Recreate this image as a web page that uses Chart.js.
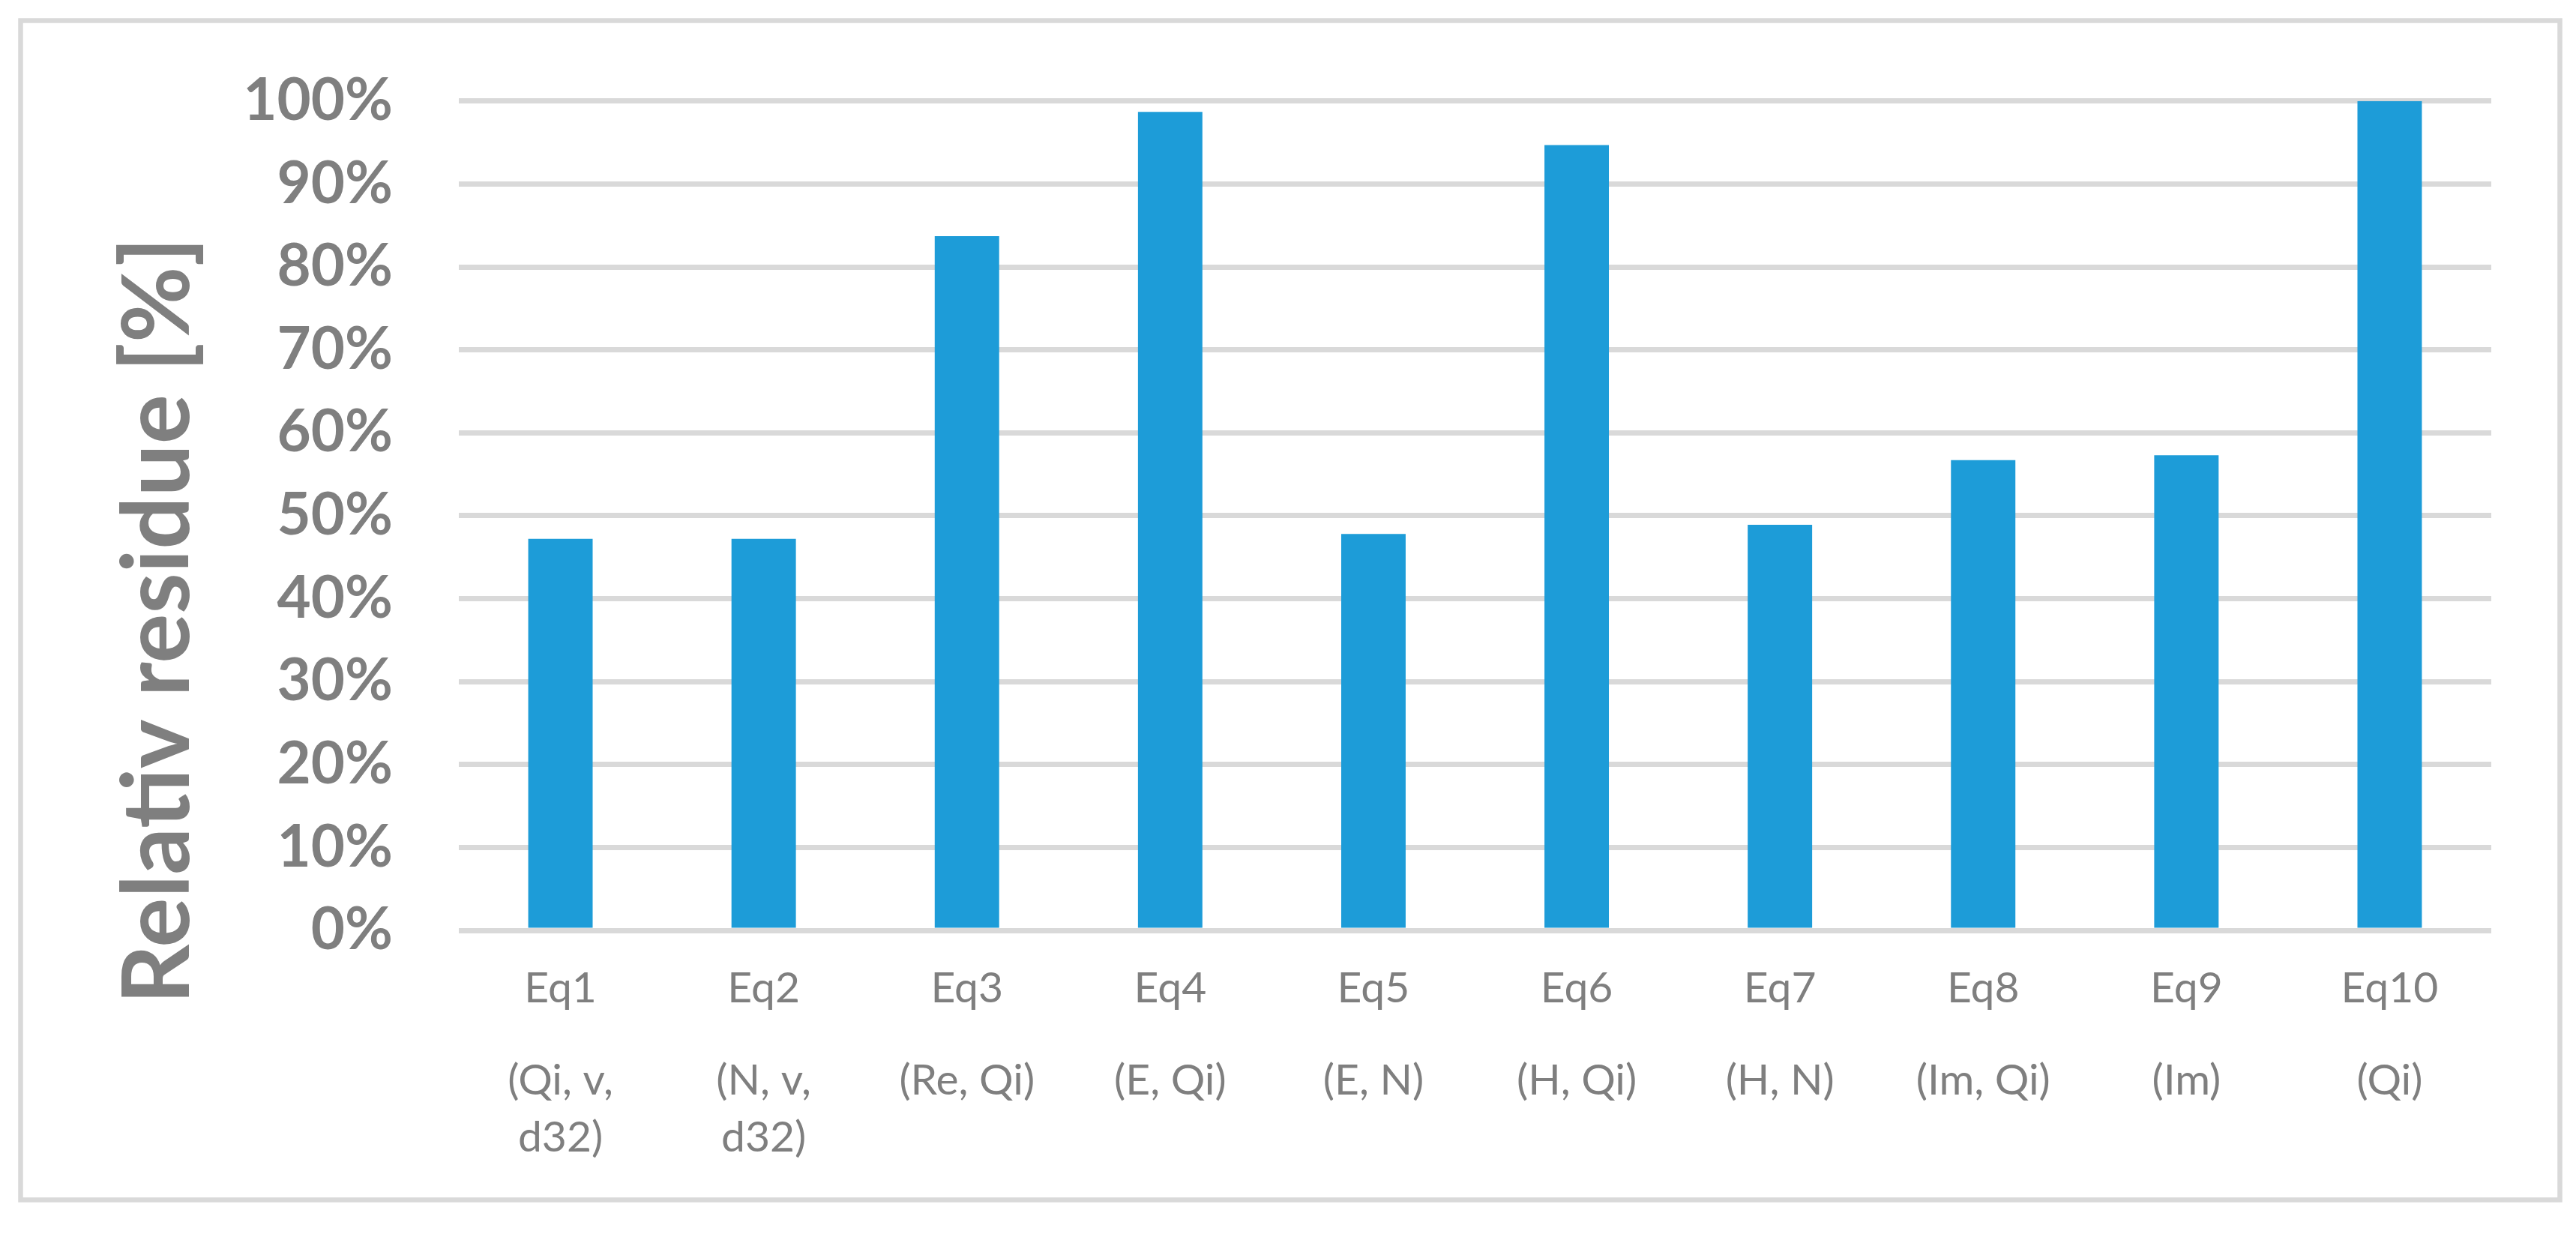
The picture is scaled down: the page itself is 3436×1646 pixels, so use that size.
<!DOCTYPE html>
<html>
<head>
<meta charset="utf-8">
<script src="https://cdn.jsdelivr.net/npm/chart.js@4.4.1/dist/chart.umd.min.js"></script>
<style>
  body { margin: 0; background: #ffffff; }
  #wrap { width: 3436px; height: 1646px; position: relative; }
</style>
</head>
<body>
<div id="wrap"><canvas id="myChart"></canvas></div>
<script>
// equation names and the variables each one uses
var eqLabels = ['Eq1', 'Eq2', 'Eq3', 'Eq4', 'Eq5', 'Eq6', 'Eq7', 'Eq8', 'Eq9', 'Eq10'];
var varLabels = [
    ['(Qi, v,', 'd32)'],
    ['(N, v,', 'd32)'],
    ['(Re, Qi)'],
    ['(E, Qi)'],
    ['(E, N)'],
    ['(H, Qi)'],
    ['(H, N)'],
    ['(Im, Qi)'],
    ['(Im)'],
    ['(Qi)']
];

// relative residue (fraction of 1)
var residues = [0.472, 0.472, 0.837, 0.987, 0.478, 0.947, 0.489, 0.567, 0.573, 1.0];

var yTickLabels = ['0%', '10%', '20%', '30%', '40%', '50%', '60%', '70%', '80%', '90%', '100%'];
var yTitle = 'Relativ residue [%]';

var grey = '#7f7f7f';
var lineGrey = '#d9d9d9';

// frame round the whole chart, title and category labels
var decorPlugin = {
    id: 'decor',
    beforeDraw: function(chart) {
        var ctx = chart.ctx;
        ctx.save();
        ctx.fillStyle = '#ffffff';
        ctx.fillRect(0, 0, chart.width, chart.height);
        ctx.strokeStyle = lineGrey;
        ctx.lineWidth = 6.5;
        ctx.strokeRect(27.5, 27.5, 3387, 1573);
        ctx.restore();
    },
    afterDraw: function(chart) {
        var ctx = chart.ctx;
        var x = chart.scales.x;
        ctx.save();
        ctx.fillStyle = grey;
        ctx.textAlign = 'center';
        ctx.textBaseline = 'alphabetic';
        ctx.font = '57px Lato';
        eqLabels.forEach(function(lab, i) {
            var px = x.getPixelForValue(i);
            ctx.fillText(lab, px, 1337);
            varLabels[i].forEach(function(line, j) {
                ctx.fillText(line, px, 1460 + j * 76);
            });
        });

        // axis title, rotated
        ctx.translate(252, 828);
        ctx.rotate(-Math.PI / 2);
        ctx.font = 'bold 124px Lato';
        ctx.fillText(yTitle, 0, 0);
        ctx.restore();
    }
};

var ctx = document.getElementById('myChart').getContext('2d');
var chart = new Chart(ctx, {
    type: 'bar',
    data: {
        labels: eqLabels,
        datasets: [{
            label: yTitle,
            data: residues,
            backgroundColor: '#1d9cd8',
            borderWidth: 0,
            categoryPercentage: 1.0,
            barPercentage: 0.317
        }]
    },
    options: {
        responsive: true,
        maintainAspectRatio: false,
        animation: false,
        devicePixelRatio: 1,
        layout: {
            padding: { top: 125, right: 113, bottom: 0, left: 0 }
        },
        plugins: {
            legend: { display: false },
            tooltip: { enabled: false }
        },
        scales: {
            x: {
                grid: { display: false },
                border: { display: false },
                ticks: { display: false },
                afterFit: function(scale) { scale.height = 405; }
            },
            y: {
                min: 0,
                max: 1,
                grid: { color: lineGrey, lineWidth: 7, drawTicks: false },
                border: { display: false },
                ticks: {
                    stepSize: 0.1,
                    padding: 88,
                    color: grey,
                    font: { family: 'Lato', size: 78, weight: 'bold' },
                    callback: function(value, index) { return yTickLabels[index]; }
                },
                afterFit: function(scale) { scale.width = 612; }
            }
        }
    },
    plugins: [decorPlugin]
});
</script>
</body>
</html>
